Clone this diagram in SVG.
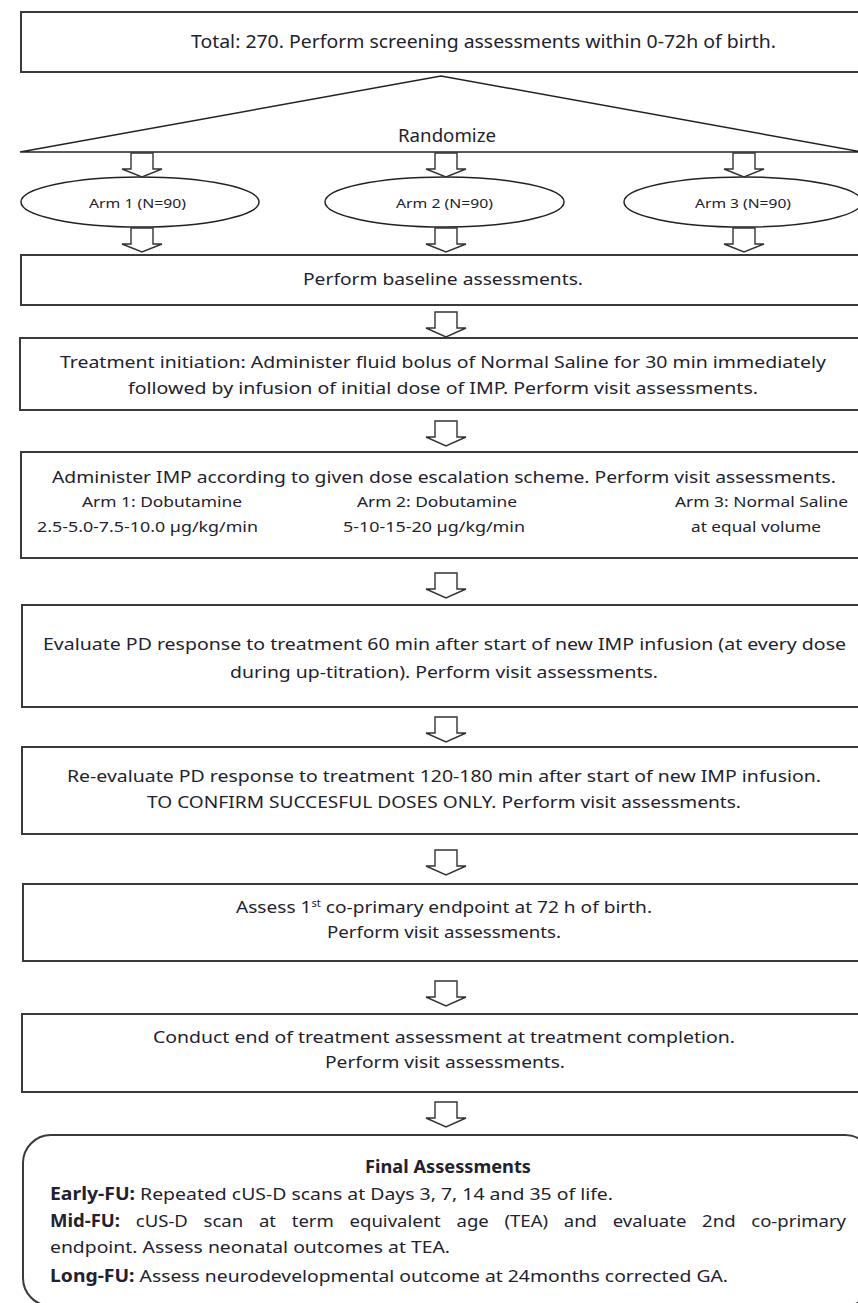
<svg xmlns="http://www.w3.org/2000/svg" width="858" height="1303" viewBox="0 0 858 1303">
<style>
.box{fill:#fff;stroke:#3a3a3a;stroke-width:2}
.tri{fill:#fff;stroke:#222;stroke-width:1.5}
.ell{fill:#fff;stroke:#222;stroke-width:1.5}
.arr{fill:#fff;stroke:#333;stroke-width:1.4;stroke-linejoin:miter}
text{font-family:"Noto Sans","Open Sans","Liberation Sans",sans-serif;fill:#22222e;font-size:17px}
.t17{font-size:17.5px}
.small{font-size:13px}
.col{font-size:14.5px}
.b{font-weight:bold}
.just{word-spacing:10px}
</style>
<rect width="858" height="1303" fill="#fff"/>

<g id="screening">
<rect class="box" x="21" y="12" width="930" height="60"/>
<text class="t17" x="191" y="48" textLength="585" lengthAdjust="spacingAndGlyphs">Total: 270. Perform screening assessments within 0-72h of birth.</text>
</g>

<g id="randomize">
<path class="tri" d="M20,152 L441,76 L862,152 Z"/>
<text class="t17" x="398" y="142" textLength="98" lengthAdjust="spacingAndGlyphs">Randomize</text>
</g>

<g id="arm1">
<ellipse class="ell" cx="140" cy="202" rx="119" ry="25"/>
<text class="small" x="89" y="208" textLength="97" lengthAdjust="spacingAndGlyphs">Arm 1 (N=90)</text>
</g>
<g id="arm2">
<ellipse class="ell" cx="444.5" cy="202" rx="119.5" ry="25"/>
<text class="small" x="396" y="208" textLength="97" lengthAdjust="spacingAndGlyphs">Arm 2 (N=90)</text>
</g>
<g id="arm3">
<ellipse class="ell" cx="743" cy="202" rx="119" ry="25"/>
<text class="small" x="695" y="208" textLength="96" lengthAdjust="spacingAndGlyphs">Arm 3 (N=90)</text>
</g>

<g id="baseline">
<rect class="box" x="21" y="255" width="870" height="50"/>
<text x="303" y="285" textLength="280" lengthAdjust="spacingAndGlyphs">Perform baseline assessments.</text>
</g>

<g id="treatment">
<rect class="box" x="20" y="338" width="870" height="72"/>
<text x="60" y="368" textLength="766" lengthAdjust="spacingAndGlyphs">Treatment initiation: Administer fluid bolus of Normal Saline for 30 min immediately</text>
<text x="128" y="394" textLength="630" lengthAdjust="spacingAndGlyphs">followed by infusion of initial dose of IMP. Perform visit assessments.</text>
</g>

<g id="dosing">
<rect class="box" x="21" y="452" width="870" height="106"/>
<text x="52" y="483" textLength="784" lengthAdjust="spacingAndGlyphs">Administer IMP according to given dose escalation scheme. Perform visit assessments.</text>
<text class="col" x="82" y="507" textLength="160" lengthAdjust="spacingAndGlyphs">Arm 1: Dobutamine</text>
<text class="col" x="37" y="532" textLength="221" lengthAdjust="spacingAndGlyphs">2.5-5.0-7.5-10.0 µg/kg/min</text>
<text class="col" x="357" y="507" textLength="160" lengthAdjust="spacingAndGlyphs">Arm 2: Dobutamine</text>
<text class="col" x="343" y="532" textLength="182" lengthAdjust="spacingAndGlyphs">5-10-15-20 µg/kg/min</text>
<text class="col" x="675" y="507" textLength="173" lengthAdjust="spacingAndGlyphs">Arm 3: Normal Saline</text>
<text class="col" x="691" y="532" textLength="130" lengthAdjust="spacingAndGlyphs">at equal volume</text>
</g>

<g id="evaluate">
<rect class="box" x="22" y="605" width="870" height="102"/>
<text x="43" y="650" textLength="803" lengthAdjust="spacingAndGlyphs">Evaluate PD response to treatment 60 min after start of new IMP infusion (at every dose</text>
<text x="230" y="678" textLength="428" lengthAdjust="spacingAndGlyphs">during up-titration). Perform visit assessments.</text>
</g>

<g id="reevaluate">
<rect class="box" x="22" y="747" width="870" height="87"/>
<text x="67" y="782" textLength="754" lengthAdjust="spacingAndGlyphs">Re-evaluate PD response to treatment 120-180 min after start of new IMP infusion.</text>
<text x="147" y="808" textLength="594" lengthAdjust="spacingAndGlyphs">TO CONFIRM SUCCESFUL DOSES ONLY. Perform visit assessments.</text>
</g>

<g id="endpoint1">
<rect class="box" x="23" y="884" width="870" height="77"/>
<text x="236" y="913" textLength="416" lengthAdjust="spacingAndGlyphs">Assess 1<tspan font-size="10" dy="-6">st</tspan><tspan dy="6"> co-primary endpoint at 72 h of birth.</tspan></text>
<text x="327" y="938" textLength="234" lengthAdjust="spacingAndGlyphs">Perform visit assessments.</text>
</g>

<g id="eot">
<rect class="box" x="22" y="1014" width="870" height="78"/>
<text x="153" y="1043" textLength="582" lengthAdjust="spacingAndGlyphs">Conduct end of treatment assessment at treatment completion.</text>
<text x="325" y="1068" textLength="240" lengthAdjust="spacingAndGlyphs">Perform visit assessments.</text>
</g>

<g id="final">
<rect class="box" x="23" y="1135" width="850" height="171" rx="28" ry="28"/>
<text class="b" x="365" y="1173" textLength="166" lengthAdjust="spacingAndGlyphs">Final Assessments</text>
<text x="50" y="1200" textLength="563" lengthAdjust="spacingAndGlyphs"><tspan class="b">Early-FU:</tspan> Repeated cUS-D scans at Days 3, 7, 14 and 35 of life.</text>
<text class="just" x="50" y="1227" textLength="796" lengthAdjust="spacingAndGlyphs"><tspan class="b">Mid-FU:</tspan> cUS-D scan at term equivalent age (TEA) and evaluate 2nd co-primary</text>
<text x="50" y="1253" textLength="400" lengthAdjust="spacingAndGlyphs">endpoint. Assess neonatal outcomes at TEA.</text>
<text x="50" y="1282" textLength="678" lengthAdjust="spacingAndGlyphs"><tspan class="b">Long-FU:</tspan> Assess neurodevelopmental outcome at 24months corrected GA.</text>
</g>

<g id="connectors">
<path class="arr" d="M131,153 H153 V169 H162 L142,177 L122,169 H131 Z"/>
<path class="arr" d="M435,153 H457 V169 H466 L446,177 L426,169 H435 Z"/>
<path class="arr" d="M733,153 H755 V169 H764 L744,177 L724,169 H733 Z"/>
<path class="arr" d="M131,228 H153 V244 H162 L142,252 L122,244 H131 Z"/>
<path class="arr" d="M435,228 H457 V244 H466 L446,252 L426,244 H435 Z"/>
<path class="arr" d="M733,228 H755 V244 H764 L744,252 L724,244 H733 Z"/>
<path class="arr" d="M435,312 H457 V328 H466 L446,337 L426,328 H435 Z"/>
<path class="arr" d="M435,421 H457 V437 H466 L446,446 L426,437 H435 Z"/>
<path class="arr" d="M435,573 H457 V589 H466 L446,598 L426,589 H435 Z"/>
<path class="arr" d="M435,717 H457 V733 H466 L446,742 L426,733 H435 Z"/>
<path class="arr" d="M435,850 H457 V866 H466 L446,875 L426,866 H435 Z"/>
<path class="arr" d="M435,981 H457 V997 H466 L446,1006 L426,997 H435 Z"/>
<path class="arr" d="M435,1102 H457 V1118 H466 L446,1127 L426,1118 H435 Z"/>
</g>
</svg>
